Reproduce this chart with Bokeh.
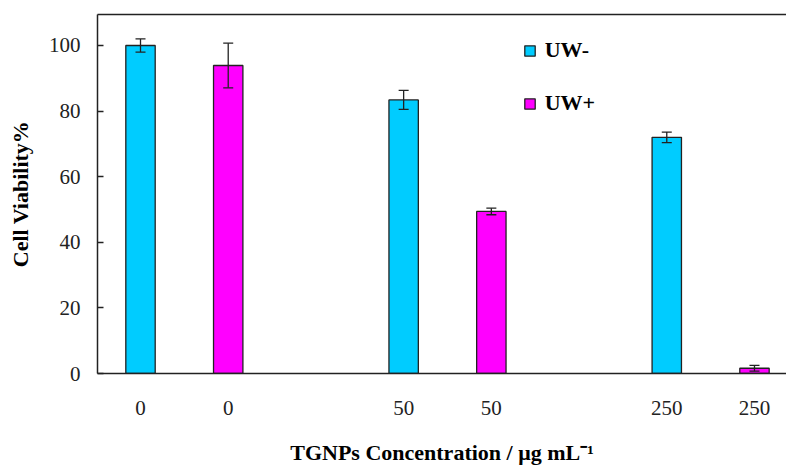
from bokeh.plotting import figure
from bokeh.models import (ColumnDataSource, FixedTicker, Whisker, TeeHead, Legend,
                          LegendItem, LinearAxis, Range1d)
from bokeh.embed import file_html
from bokeh.resources import INLINE

# ---- data ----
concentrations = ["0", "50", "250"]
uw_minus = [100.0, 83.4, 72.0]
uw_minus_err = [2.0, 2.9, 1.6]
uw_plus = [93.9, 49.4, 1.6]
uw_plus_err = [6.8, 1.0, 0.9]
y_ticks = [0, 20, 40, 60, 80, 100]

x_minus = [i * 3 + 1 for i in range(len(concentrations))]
x_plus = [i * 3 + 2 for i in range(len(concentrations))]

src_m = ColumnDataSource(dict(x=x_minus, top=uw_minus,
                              lo=[v - e for v, e in zip(uw_minus, uw_minus_err)],
                              hi=[v + e for v, e in zip(uw_minus, uw_minus_err)]))
src_p = ColumnDataSource(dict(x=x_plus, top=uw_plus,
                              lo=[v - e for v, e in zip(uw_plus, uw_plus_err)],
                              hi=[v + e for v, e in zip(uw_plus, uw_plus_err)]))

CYAN = "#00CCFF"
MAGENTA = "#FF00FF"
DARK = "#222222"
SERIF = "Liberation Serif"

p = figure(width=786, height=467, output_backend="svg", toolbar_location=None,
           x_range=Range1d(0.5097, 8.365), y_range=Range1d(0, 109.45),
           min_border_left=97, min_border_right=0, min_border_top=14,
           min_border_bottom=94)
p.outline_line_color = None
p.grid.grid_line_color = None
p.background_fill_color = "white"
p.border_fill_color = "white"

bw = 0.335
r_m = p.vbar(x="x", top="top", bottom=0, width=bw, source=src_m,
             fill_color=CYAN, line_color=DARK, line_width=1.3)
r_p = p.vbar(x="x", top="top", bottom=0, width=bw, source=src_p,
             fill_color=MAGENTA, line_color=DARK, line_width=1.3)

for s in (src_m, src_p):
    w = Whisker(base="x", upper="hi", lower="lo", source=s, level="overlay",
                line_color=DARK, line_width=1.3,
                upper_head=TeeHead(size=10, line_color=DARK, line_width=1.3),
                lower_head=TeeHead(size=10, line_color=DARK, line_width=1.3))
    p.add_layout(w)

# x axis
xa = p.xaxis[0]
xa.ticker = FixedTicker(ticks=x_minus + x_plus)
xa.major_label_overrides = {x: c for x, c in zip(x_minus, concentrations)}
xa.major_label_overrides.update({x: c for x, c in zip(x_plus, concentrations)})
xa.major_tick_line_color = None
xa.major_tick_in = 0
xa.major_tick_out = 0
xa.minor_tick_line_color = None
xa.axis_line_color = DARK
xa.axis_line_width = 1.5
xa.major_label_text_font = SERIF
xa.major_label_text_font_size = "21px"
xa.major_label_text_color = DARK
xa.major_label_standoff = 27
xa.axis_label = "TGNPs Concentration / \u03bcg mL\u207b\u00b9"
xa.axis_label_text_font = SERIF
xa.axis_label_text_font_style = "bold"
xa.axis_label_text_font_size = "22px"
xa.axis_label_text_color = "black"
xa.axis_label_standoff = 22

# y axis
ya = p.yaxis[0]
ya.ticker = FixedTicker(ticks=y_ticks)
ya.major_tick_in = 6
ya.major_tick_out = 0
ya.major_tick_line_color = DARK
ya.major_tick_line_width = 1.3
ya.minor_tick_line_color = None
ya.axis_line_color = DARK
ya.axis_line_width = 1.5
ya.major_label_text_font = SERIF
ya.major_label_text_font_size = "21px"
ya.major_label_text_color = DARK
ya.major_label_standoff = 17
ya.axis_label = "Cell Viability%"
ya.axis_label_text_font = SERIF
ya.axis_label_text_font_style = "bold"
ya.axis_label_text_font_size = "22px"
ya.axis_label_text_color = "black"
ya.axis_label_standoff = 13

# top border line
top_ax = LinearAxis(major_tick_line_color=None, minor_tick_line_color=None,
                    major_tick_in=0, major_tick_out=0, major_label_standoff=0,
                    major_label_text_font_size="0px", axis_line_color=DARK,
                    axis_line_width=1.5, ticker=FixedTicker(ticks=[]))
p.add_layout(top_ax, "above")

legend = Legend(items=[LegendItem(label="UW-", renderers=[r_m]),
                       LegendItem(label="UW+", renderers=[r_p])],
                location=(425.7, 257), orientation="vertical",
                glyph_width=13, glyph_height=13, label_standoff=9,
                label_height=25, spacing=27, padding=0, margin=0,
                border_line_color=None, background_fill_alpha=0,
                label_text_font=SERIF, label_text_font_style="bold",
                label_text_font_size="22px", label_text_color="black")
p.add_layout(legend, "center")

open("out.html", "w").write(file_html(p, INLINE))
